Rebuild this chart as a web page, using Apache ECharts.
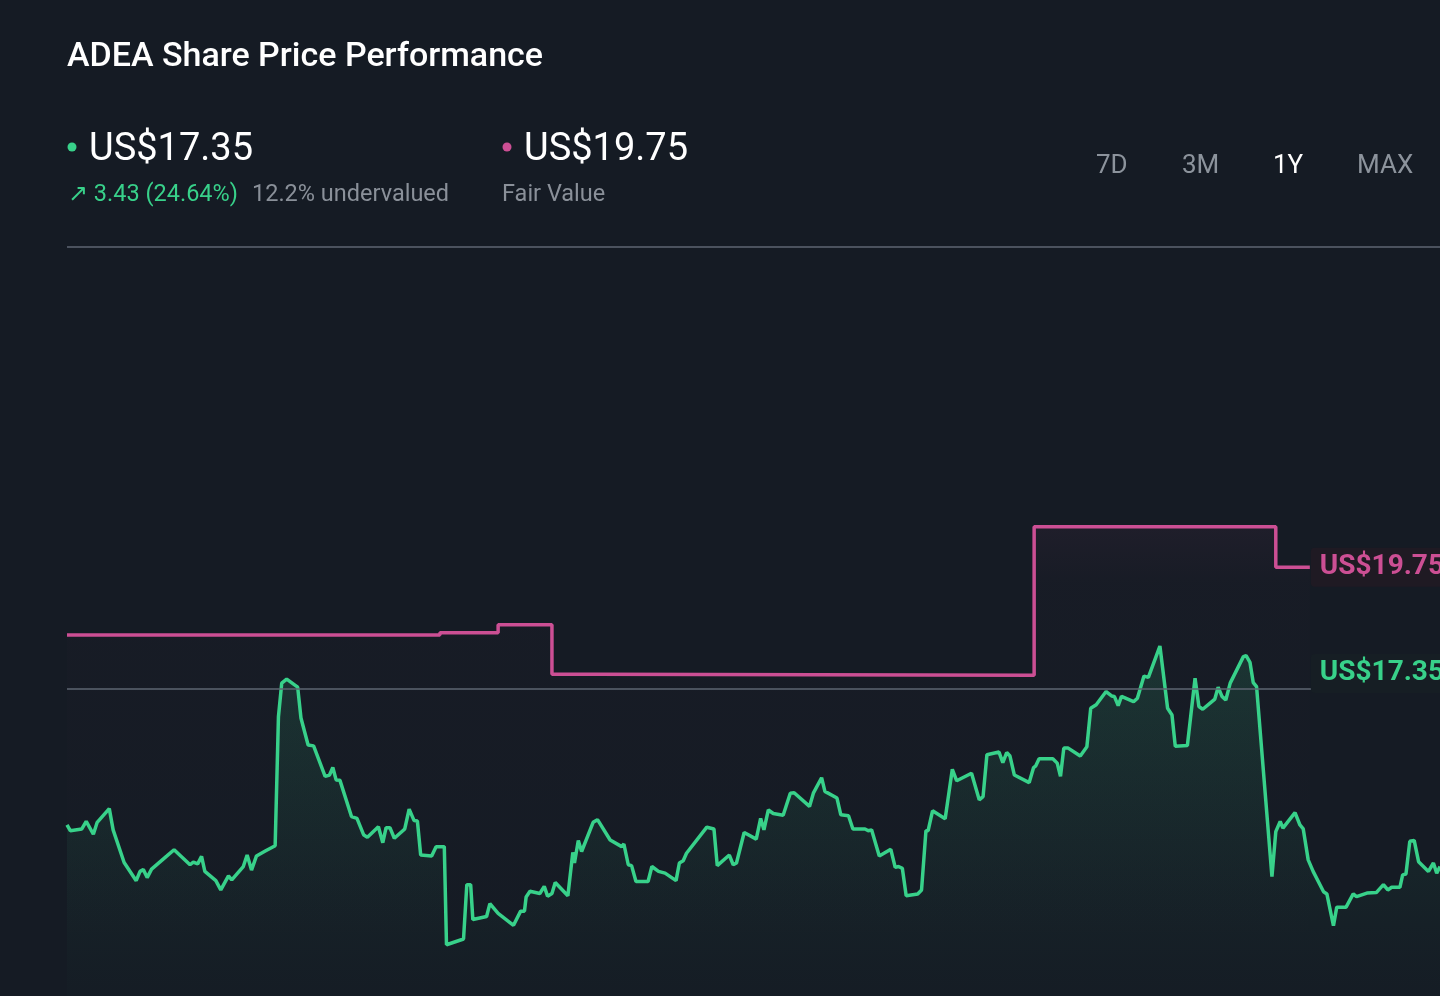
<!DOCTYPE html>
<html>
<head>
<meta charset="utf-8">
<title>ADEA Share Price Performance</title>
<script src="https://cdn.jsdelivr.net/npm/echarts@6/dist/echarts.min.js"></script>
<style>
  html, body { margin: 0; padding: 0; background: #151b24; }
  #chart { width: 1440px; height: 996px; }
</style>
</head>
<body>
<div id="chart"></div>
<script>
// share price, trading day index -> US$
var priceDay = [0, 0.6, 2.7, 3.5, 4.8, 5.5, 7.7, 8.4, 10.4, 12.6, 13.3, 13.9, 14.6, 15.4, 18.2, 19.5, 22.4, 23.0, 23.8, 24.5,
  25.1, 27.1, 28.0, 29.4, 30.0, 32.1, 32.8, 33.6, 34.5, 36.1, 37.9, 38.5, 39.1, 40.0, 42.0, 42.6, 43.9, 44.9, 47.0, 47.8,
  48.4, 49.0, 49.7, 51.8, 52.8, 54.0, 54.7, 56.7, 57.5, 58.1, 58.8, 59.6, 61.5, 62.3, 63.2, 63.8, 64.4, 66.4, 67.2, 68.7,
  69.1, 72.2, 72.8, 73.5, 73.9, 76.4, 77.0, 78.5, 81.3, 82.6, 83.3, 83.6, 84.3, 86.1, 86.9, 87.5, 88.3, 88.9, 91.2, 92.1,
  92.4, 93.1, 93.7, 95.8, 96.6, 98.9, 101.0, 101.4, 102.2, 102.8, 103.6, 105.8, 106.5, 107.7, 108.9, 110.9, 111.5, 112.2, 112.8, 116.5,
  117.8, 118.4, 120.6, 121.3, 121.9, 123.3, 125.5, 126.3, 126.9, 127.7, 128.6, 130.4, 131.7, 132.4, 135.2, 135.9, 137.4, 138.0, 140.2, 140.9,
  142.3, 143.1, 145.3, 145.9, 146.5, 147.9, 150.0, 150.8, 151.4, 152.1, 152.8, 154.9, 155.6, 156.4, 156.8, 157.6, 159.9, 161.2, 162.0, 164.7,
  166.1, 166.8, 167.5, 169.7, 170.4, 171.1, 171.7, 172.5, 175.2, 176.0, 176.4, 177.0, 179.5, 180.3, 180.9, 181.5, 182.3, 184.5, 185.7, 186.4,
  187.4, 189.2, 190.2, 190.7, 191.4, 192.0, 194.2, 194.9, 196.1, 196.9, 199.0, 200.4, 201.2, 201.8, 204.0, 205.4, 206.1, 206.8, 209.0, 209.6,
  210.3, 211.0, 211.8, 214.2, 214.7, 215.4, 216.0, 216.6, 219.4, 220.1, 220.9, 221.4, 223.6, 224.5, 225.1, 226.0, 226.9, 228.8, 229.4, 230.6,
  231.2, 232.9, 234.2, 234.8, 236.7, 238.4, 239.7, 240.5, 241.2, 242.7, 243.2, 243.8, 244.5, 245.3, 246.1, 247.9, 248.8, 249.4, 250.0];
var price = [13.92, 13.79, 13.83, 14.00, 13.71, 13.98, 14.29, 13.81, 13.07, 12.66, 12.87, 12.91, 12.73, 12.92, 13.22, 13.36, 13.02, 13.08, 13.04, 13.21,
  12.87, 12.66, 12.45, 12.77, 12.68, 12.98, 13.24, 12.90, 13.22, 13.33, 13.45, 16.37, 17.13, 17.22, 17.04, 16.34, 15.73, 15.71, 15.02, 15.05,
  15.22, 14.94, 14.93, 14.11, 14.07, 13.70, 13.64, 13.88, 13.52, 13.86, 13.86, 13.62, 13.83, 14.28, 14.02, 14.01, 13.24, 13.22, 13.43, 13.43,
  11.21, 11.34, 12.57, 12.57, 11.78, 11.85, 12.14, 11.92, 11.65, 11.97, 11.97, 12.29, 12.42, 12.37, 12.53, 12.31, 12.37, 12.62, 12.32, 13.30,
  13.06, 13.57, 13.32, 13.98, 14.04, 13.58, 13.43, 13.49, 13.02, 13.00, 12.64, 12.64, 12.98, 12.87, 12.83, 12.66, 13.06, 13.11, 13.28, 13.87,
  13.83, 13.00, 13.24, 13.02, 13.06, 13.75, 13.60, 14.07, 13.81, 14.26, 14.18, 14.14, 14.64, 14.65, 14.34, 14.64, 14.99, 14.68, 14.53, 14.15,
  14.13, 13.83, 13.83, 13.79, 13.81, 13.22, 13.37, 12.96, 12.98, 12.94, 12.32, 12.36, 12.45, 13.79, 13.79, 14.24, 14.06, 15.18, 14.92, 15.09,
  14.49, 14.56, 15.51, 15.57, 15.33, 15.56, 15.48, 15.05, 14.88, 15.22, 15.26, 15.42, 15.42, 15.32, 15.02, 15.66, 15.66, 15.48, 15.69, 16.56,
  16.64, 16.94, 16.84, 16.83, 16.62, 16.83, 16.71, 16.79, 17.29, 17.26, 17.97, 16.56, 16.41, 15.70, 15.72, 17.24, 16.60, 16.54, 16.77, 17.04,
  16.83, 16.75, 17.13, 17.73, 17.75, 17.60, 17.14, 17.05, 12.75, 13.77, 14.00, 13.85, 14.20, 13.92, 13.83, 13.13, 12.87, 12.41, 12.36, 11.64,
  12.06, 12.06, 12.36, 12.30, 12.38, 12.39, 12.57, 12.45, 12.51, 12.51, 12.79, 12.81, 13.55, 13.57, 13.09, 12.87, 13.06, 12.83, 12.98];

// fair value estimate, changes on these days
var fvDay = [0, 67.9, 78.5, 88.3, 96.1, 176.1, 220.1, 226.3];
var fairValue = [18.22, 18.27, 18.45, 17.33, 17.31, 20.67, 19.75, 19.75];

// horizontal guide levels (US$)
var guideLevels = [17, 27];

var lastPrice = 17.35;
var lastFairValue = 19.75;
var ranges = ['7D', '3M', '1Y', 'MAX'];
var activeRange = '1Y';

var green = '#38d18a';
var pink = '#cc4f94';
var grey = '#8a9099';
var font = 'Roboto, "Noto Sans", sans-serif';

var priceData = priceDay.map(function (d, i) { return [d, price[i]]; });
var fvData = fvDay.map(function (d, i) { return [d, fairValue[i]]; });

var rangeX = [1096, 1182, 1273, 1357];
var rangeText = ranges.map(function (r, i) {
    return {
        type: 'text', x: rangeX[i], y: 166,
        style: {
            text: r, fontSize: 26, fontFamily: font,
            fill: r == activeRange ? '#ffffff' : '#8c939c',
            verticalAlign: 'middle'
        }
    };
});

var myCharts = echarts.init(document.getElementById('chart'));
var option = {
    backgroundColor: '#151b24',
    animation: false,
    graphic: [
        { type: 'text', x: 67, y: 57, style: { text: 'ADEA Share Price Performance', fontSize: 34, fontWeight: 500, fontFamily: font, fill: '#ffffff', verticalAlign: 'middle' } },
        { type: 'circle', shape: { cx: 72, cy: 147, r: 4.5 }, style: { fill: green } },
        { type: 'text', x: 89, y: 150, style: { text: 'US$' + lastPrice.toFixed(2), fontSize: 38, fontFamily: font, fill: '#ffffff', verticalAlign: 'middle' } },
        { type: 'text', x: 68, y: 195, style: { text: '↗ 3.43 (24.64%)', fontSize: 23.5, fontFamily: font, fill: green, verticalAlign: 'middle' } },
        { type: 'text', x: 252, y: 195, style: { text: '12.2% undervalued', fontSize: 23.5, fontFamily: font, fill: grey, verticalAlign: 'middle' } },
        { type: 'circle', shape: { cx: 507, cy: 147, r: 4.5 }, style: { fill: pink } },
        { type: 'text', x: 524, y: 150, style: { text: 'US$' + lastFairValue.toFixed(2), fontSize: 38, fontFamily: font, fill: '#ffffff', verticalAlign: 'middle' } },
        { type: 'text', x: 502, y: 195, style: { text: 'Fair Value', fontSize: 23.5, fontFamily: font, fill: grey, verticalAlign: 'middle' } }
    ].concat(rangeText),
    grid: {
        left: 67,
        right: 0,
        top: 247,
        bottom: 0
    },
    xAxis: {
        type: 'value',
        min: 0,
        max: 250,
        show: false
    },
    yAxis: {
        type: 'value',
        min: 10.05,
        max: 27,
        show: false,
        splitLine: { show: false }
    },
    series: [
        {
            name: 'Fair Value',
            type: 'line',
            step: 'end',
            data: fvData,
            symbol: 'none',
            z: 2,
            lineStyle: { color: pink, width: 3.5 },
            areaStyle: {
                color: new echarts.graphic.LinearGradient(0, 0, 0, 1, [
                    { offset: 0, color: 'rgba(204,79,148,0.08)' },
                    { offset: 0.12, color: 'rgba(204,79,148,0.02)' },
                    { offset: 1, color: 'rgba(204,79,148,0)' }
                ])
            },
            endLabel: {
                show: true,
                formatter: 'US$' + lastFairValue.toFixed(2),
                distance: 1,
                color: pink,
                fontSize: 28,
                fontWeight: 'bold',
                fontFamily: font,
                backgroundColor: '#1f1a23',
                padding: [6, 9, 5, 9],
                borderRadius: 4
            }
        },
        {
            name: 'Share Price',
            type: 'line',
            data: priceData,
            symbol: 'none',
            z: 3,
            lineStyle: { color: green, width: 3.5 },
            areaStyle: {
                color: new echarts.graphic.LinearGradient(0, 0, 0, 1, [
                    { offset: 0, color: 'rgba(56,209,138,0.2)' },
                    { offset: 0.8, color: 'rgba(56,209,138,0.04)' },
                    { offset: 1, color: 'rgba(56,209,138,0.01)' }
                ])
            },
            markLine: {
                silent: true,
                symbol: 'none',
                label: { show: false },
                lineStyle: { color: '#5e6672', width: 1.5, type: 'solid' },
                data: guideLevels.map(function (v) { return { yAxis: v }; })
            },
            markPoint: {
                symbol: 'rect',
                symbolSize: 0,
                data: [{
                    coord: [fvDay[fvDay.length - 1], lastPrice],
                    label: {
                        show: true,
                        position: 'right',
                        distance: 1,
                        formatter: 'US$' + lastPrice.toFixed(2),
                        color: green,
                        fontSize: 28,
                        fontWeight: 'bold',
                        fontFamily: font,
                        backgroundColor: '#161e24',
                        padding: [6, 9, 5, 9],
                        borderRadius: 4
                    }
                }]
            }
        }
    ]
};
myCharts.setOption(option);
</script>
</body>
</html>
